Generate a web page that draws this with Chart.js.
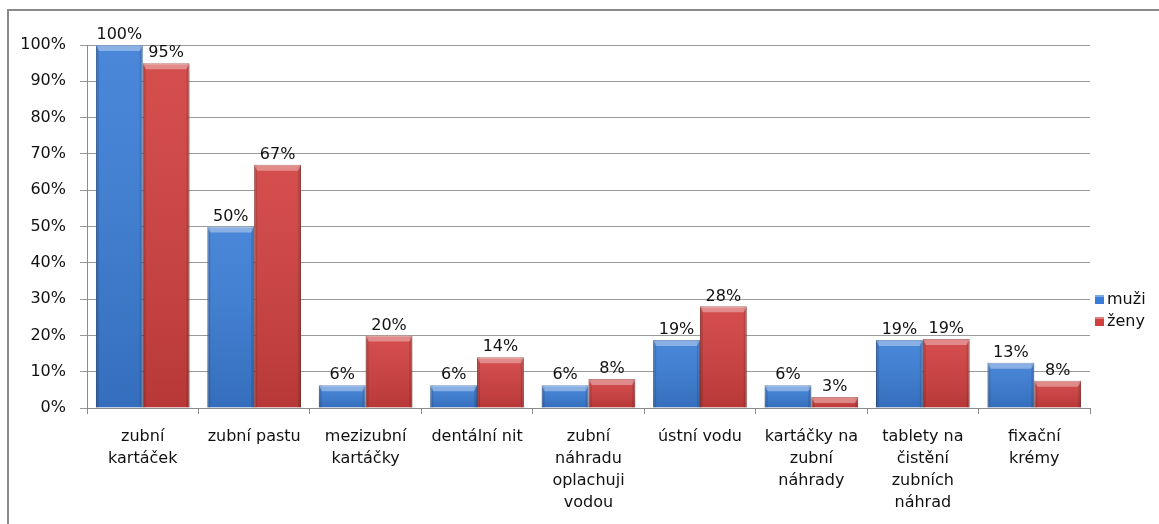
<!DOCTYPE html>
<html lang="cs">
<head>
<meta charset="UTF-8">
<title>Pomůcky pro ústní hygienu</title>
<style>
  html, body { margin: 0; padding: 0; background: #fff; }
  #wrap { position: absolute; left: 0; top: 0; width: 1159px; height: 524px; }
</style>
</head>
<body>
<div id="wrap"><canvas id="chart" width="1159" height="524"></canvas></div>
<script src="https://cdn.jsdelivr.net/npm/chart.js"></script>
<script>
// kategorie (víceřádkové popisky jako v originále)
const categories = [
  ['zubní', 'kartáček'],
  ['zubní pastu'],
  ['mezizubní', 'kartáčky'],
  ['dentální nit'],
  ['zubní', 'náhradu', 'oplachuji', 'vodou'],
  ['ústní vodu'],
  ['kartáčky na', 'zubní', 'náhrady'],
  ['tablety na', 'čistění', 'zubních', 'náhrad'],
  ['fixační', 'krémy']
];
const muzi = [100, 50, 6.25, 6.25, 6.25, 18.75, 6.25, 18.75, 12.5];
const zeny = [95, 67, 20, 14, 8, 28, 3, 19, 7.5];
const yTicks = [0, 10, 20, 30, 40, 50, 60, 70, 80, 90, 100];

const FONT = "'DejaVu Sans', sans-serif";
const BLUE = '#3b7dd6';
const RED = '#d13f3f';

// rámeček kolem grafu (jen horní a levá hrana je vidět)
const framePlugin = {
  id: 'frame',
  beforeDraw(chart) {
    const c = chart.ctx;
    c.save();
    c.strokeStyle = '#8a8a8a';
    c.lineWidth = 2;
    c.beginPath();
    c.moveTo(8, 524);
    c.lineTo(8, 10);
    c.lineTo(1159, 10);
    c.stroke();
    c.restore();
  }
};

// plastický efekt sloupců + popisky hodnot
const bevelPlugin = {
  id: 'bevel',
  afterDatasetsDraw(chart) {
    const c = chart.ctx;
    chart.data.datasets.forEach((ds, di) => {
      const meta = chart.getDatasetMeta(di);
      meta.data.forEach((bar, i) => {
        const p = bar.getProps(['x', 'y', 'base', 'width'], true);
        const l = p.x - p.width / 2, r = p.x + p.width / 2;
        const h = p.base - p.y;
        c.save();
        // spodní ztmavení
        const g = c.createLinearGradient(0, p.y, 0, p.base);
        g.addColorStop(0, 'rgba(255,255,255,0.08)');
        g.addColorStop(1, 'rgba(0,0,0,0.12)');
        c.fillStyle = g;
        c.fillRect(l, p.y, p.width, h);
        // boční hrany
        c.fillStyle = 'rgba(0,0,0,0.12)';
        c.fillRect(l, p.y, 3, h);
        c.fillRect(r - 3, p.y, 3, h);
        // horní zkosení
        const bh = Math.min(6, h);
        c.fillStyle = 'rgba(255,255,255,0.35)';
        c.beginPath();
        c.moveTo(l, p.y);
        c.lineTo(r, p.y);
        c.lineTo(r - 3, p.y + bh);
        c.lineTo(l + 3, p.y + bh);
        c.closePath();
        c.fill();
        c.restore();

        // hodnota nad sloupcem
        c.save();
        c.font = '16px ' + FONT;
        c.fillStyle = '#111';
        c.textAlign = 'center';
        c.textBaseline = 'bottom';
        c.fillText(Math.round(ds.data[i]) + '%', p.x, p.y - 2);
        c.restore();
      });
    });
  }
};

// legenda vpravo
const legendPlugin = {
  id: 'sideLegend',
  afterDraw(chart) {
    const c = chart.ctx;
    const x = chart.chartArea.right + 5;
    const rows = [300, 322];
    chart.data.datasets.forEach((ds, di) => {
      const y = rows[di];
      c.save();
      c.fillStyle = ds.backgroundColor;
      c.fillRect(x, y - 5, 9, 9);
      c.fillStyle = 'rgba(255,255,255,0.35)';
      c.fillRect(x, y - 5, 9, 2);
      c.font = '16px ' + FONT;
      c.fillStyle = '#111';
      c.textAlign = 'left';
      c.textBaseline = 'middle';
      c.fillText(ds.label, x + 12, y);
      c.restore();
    });
  }
};

new Chart(document.getElementById('chart'), {
  type: 'bar',
  data: {
    labels: categories,
    datasets: [
      { label: 'muži', data: muzi, backgroundColor: BLUE, borderColor: '#2c5fa6', borderWidth: 1 },
      { label: 'ženy', data: zeny, backgroundColor: RED, borderColor: '#a23030', borderWidth: 1 }
    ]
  },
  options: {
    responsive: false,
    animation: false,
    layout: { padding: { top: 45, right: 69, left: 0, bottom: 0 } },
    datasets: { bar: { categoryPercentage: 0.84, barPercentage: 1.0 } },
    plugins: {
      legend: { display: false },
      tooltip: { enabled: false }
    },
    scales: {
      x: {
        grid: { display: true, offset: true, drawOnChartArea: false, tickLength: 6, color: '#8a8a8a' },
        border: { color: '#8a8a8a' },
        ticks: {
          maxRotation: 0, minRotation: 0, autoSkip: false, padding: 12,
          color: '#111', font: { family: FONT, size: 16, lineHeight: '22px' }
        },
        afterFit(scale) { scale.height = 116; }
      },
      y: {
        min: 0, max: 100,
        afterBuildTicks(scale) { scale.ticks = yTicks.map(v => ({ value: v })); },
        grid: { color: '#9a9a9a', tickLength: 7 },
        border: { color: '#8a8a8a' },
        ticks: {
          padding: 14, color: '#111',
          font: { family: FONT, size: 16 },
          callback: v => v + '%'
        },
        afterFit(scale) { scale.width = 87; }
      }
    }
  },
  plugins: [framePlugin, bevelPlugin, legendPlugin]
});
</script>
</body>
</html>
